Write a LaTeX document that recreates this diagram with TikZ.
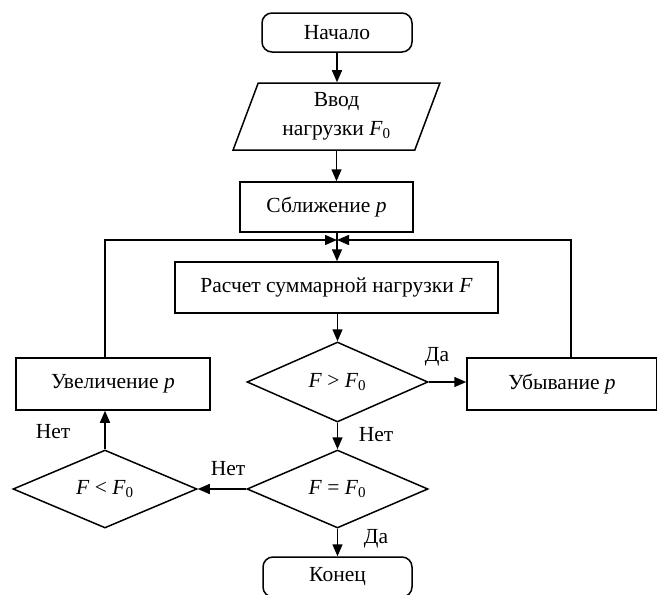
\documentclass[tikz,border=0pt]{standalone}
\usepackage{fontspec}
\setmainfont{Liberation Serif}
\usetikzlibrary{shapes.geometric, arrows.meta}

\newcommand{\Fnull}{\textit{F}\textsubscript{0}}

\begin{document}
\begin{tikzpicture}[x=1pt, y=-1pt, line width=1.5pt,
    >={Triangle[length=12pt, width=10pt]},
    every node/.style={font=\fontsize{21.5}{29}\selectfont},
    box/.style={draw, rectangle, inner sep=0pt},
    term/.style={draw, rectangle, rounded corners=10pt, inner sep=0pt},
    io/.style={draw, trapezium, trapezium left angle=70, trapezium right angle=110,
      trapezium stretches=true, inner sep=0pt, align=center},
    test/.style={draw, diamond, inner sep=0pt, aspect=2.25},
    lbl/.style={inner sep=0pt}]
    \useasboundingbox (0,0) rectangle (657,595);
    \fill[white] (0,0) rectangle (657,595);

    % Blokker
    \node[term, minimum width=150pt, minimum height=39pt] (start) at (337,32.5) {Начало};
    \node[io, minimum width=207pt, minimum height=67pt] (input) at (336.5,116.5) {Ввод\\нагрузки \Fnull};
    \node[box, minimum width=173pt, minimum height=50pt] (approach) at (326.5,207) {Сближение \textit{p}};
    \node[box, minimum width=323pt, minimum height=51pt] (calc) at (336.5,287.5) {Расчет суммарной нагрузки \textit{F}};
    \node[test, minimum width=181pt, minimum height=80pt] (gt) at (337.5,382) {\textit{F} > \Fnull};
    \node[test, minimum width=181pt, minimum height=78pt] (eq) at (337.5,489) {\textit{F} = \Fnull};
    \node[test, minimum width=184pt, minimum height=78pt] (lt) at (105,489) {\textit{F} < \Fnull};
    \node[box, minimum width=194pt, minimum height=52pt] (inc) at (113,384) {Увеличение \textit{p}};
    \node[box, minimum width=190pt, minimum height=52pt] (dec) at (562,384) {Убывание \textit{p}};
    \node[term, minimum width=149pt, minimum height=40pt] (finish) at (337.5,577) {Конец};

    % Knutepunkt over beregningen
    \coordinate (join) at (337,240);
    \coordinate (decup) at ([xshift=9pt]dec.north);

    % Piler
    \draw[->] (start) -- (start |- input.north);
    \draw[->] (input.south) -- (input.south |- approach.north);
    \draw (join |- approach.south) -- (join);
    \draw[->] (join) -- (join |- calc.north);
    \draw[->] (calc.south -| gt.north) -- (gt.north);
    \draw[->] (gt.east) -- (gt.east -| dec.west);
    \draw[->] (gt.south) -- (eq.north);
    \draw[->] (eq.west) -- (lt.east);
    \draw[->] (lt.north) -- (lt.north |- inc.south);
    \draw[->] (eq.south) -- (finish.north -| eq.south);
    \draw[->] (lt.north |- inc.north) |- (join);
    \draw[->] (decup) |- (join);

    % Etiketter
    \node[lbl] (yes1) at (437,357) {Да};
    \node[lbl] (no1) at (376,435) {Нет};
    \node[lbl] (no2) at (228,469) {Нет};
    \node[lbl] (no3) at (53,432) {Нет};
    \node[lbl] (yes2) at (376,539) {Да};
\end{tikzpicture}
\end{document}
